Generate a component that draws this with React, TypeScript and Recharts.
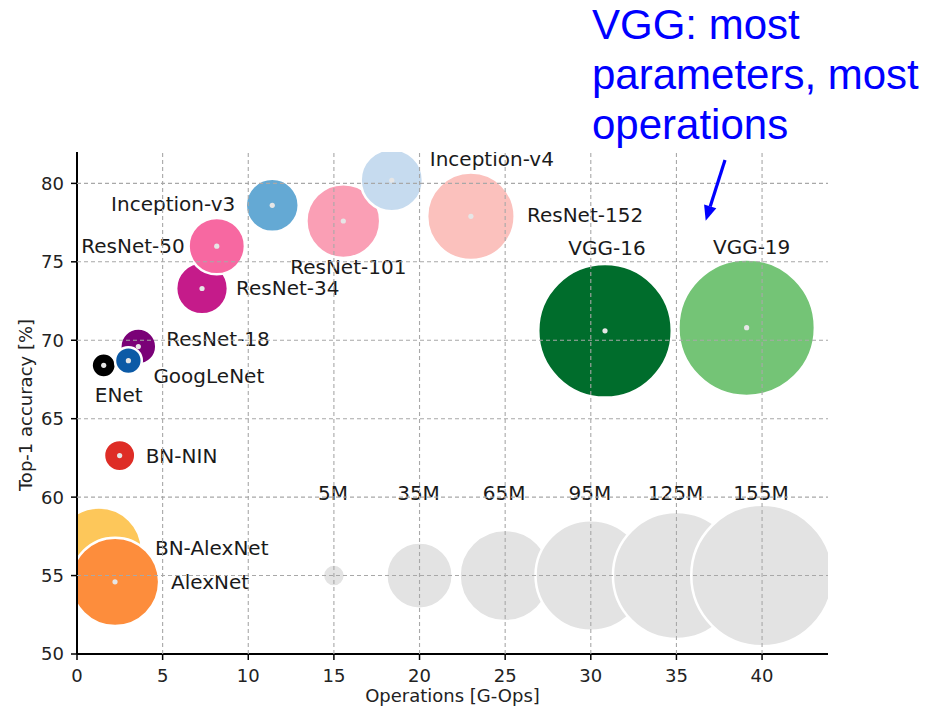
import React from 'react';
import { ScatterChart, Scatter, XAxis, YAxis, ZAxis, ReferenceLine } from 'recharts';

// models in drawing order (later ones sit on top)
const models = ['BN-AlexNet', 'AlexNet', 'BN-NIN', 'ENet', 'ResNet-18', 'GoogLeNet', 'ResNet-34', 'ResNet-50',
  'Inception-v3', 'ResNet-101', 'Inception-v4', 'ResNet-152', 'VGG-16', 'VGG-19'];
const gOps = [1.28, 2.22, 2.49, 1.56, 3.58, 3.0, 7.3, 8.16, 11.4, 15.55, 18.38, 23.0, 30.83, 39.1];
const top1 = [56.6, 54.6, 62.65, 68.4, 69.6, 68.7, 73.3, 76.0, 78.6, 77.6, 80.2, 77.9, 70.6, 70.8];
const paramsM = [58, 61, 8.8, 5.8, 11.2, 6.8, 21.8, 25.6, 22.8, 43, 31, 60, 138, 144];

// size legend drawn inside the plot
const legendParams = [5, 35, 65, 95, 125, 155];
const legendLabels = ['5M', '35M', '65M', '95M', '125M', '155M'];
const legendX = [15, 20, 25, 30, 35, 40];
const legendY = 55;

const xTicks = [0, 5, 10, 15, 20, 25, 30, 35, 40];
const yTicks = [50, 55, 60, 65, 70, 75, 80];
const X_DOMAIN: [number, number] = [0, 43.85];
const Y_DOMAIN: [number, number] = [50, 82];

const COLORS: Record<string, string> = {
  'BN-AlexNet': '#fdc75a',
  AlexNet: '#fd8d3c',
  'BN-NIN': '#de2d26',
  ENet: '#000000',
  'ResNet-18': '#7a0177',
  GoogLeNet: '#0c5aa6',
  'ResNet-34': '#c51b8a',
  'ResNet-50': '#f768a1',
  'Inception-v3': '#64a9d4',
  'ResNet-101': '#fa9fb5',
  'Inception-v4': '#c6dbef',
  'ResNet-152': '#fbc1bd',
  'VGG-16': '#006d2c',
  'VGG-19': '#74c476',
};
const GRAY = '#e3e3e3';
const GRID = '#a8a8a8';

// label placement relative to bubble centre (px)
const LABEL_POS: Record<string, { dx: number; dy: number; anchor: string }> = {
  'BN-AlexNet': { dx: 56, dy: -2, anchor: 'start' },
  AlexNet: { dx: 56, dy: 0, anchor: 'start' },
  'BN-NIN': { dx: 26, dy: 0, anchor: 'start' },
  ENet: { dx: 15, dy: 30, anchor: 'middle' },
  'ResNet-18': { dx: 28, dy: -8, anchor: 'start' },
  GoogLeNet: { dx: 25, dy: 15, anchor: 'start' },
  'ResNet-34': { dx: 34, dy: 0, anchor: 'start' },
  'ResNet-50': { dx: -32, dy: 0, anchor: 'end' },
  'Inception-v3': { dx: -37, dy: -1, anchor: 'end' },
  'ResNet-101': { dx: 5, dy: 46, anchor: 'middle' },
  'Inception-v4': { dx: 38, dy: -21, anchor: 'start' },
  'ResNet-152': { dx: 56, dy: -1, anchor: 'start' },
  'VGG-16': { dx: 2, dy: -83, anchor: 'middle' },
  'VGG-19': { dx: 5, dy: -81, anchor: 'middle' },
};

const modelData = models.map((name, i) => ({ name, ops: gOps[i], acc: top1[i], params: paramsM[i] }));
const legendData = legendParams.map((p, i) => ({ name: legendLabels[i], ops: legendX[i], acc: legendY, params: p, legend: true }));

const FONT = '"DejaVu Sans", sans-serif';
const W = 931;
const H = 709;

const Bubble = (props: any) => {
  const { cx, cy, size, payload } = props;
  if (cx == null || cy == null) return null;
  const r = Math.sqrt(size / Math.PI);
  const fill = payload.legend ? GRAY : COLORS[payload.name];
  return (
    <g>
      <circle cx={cx} cy={cy} r={r} fill={fill} stroke="#fff" strokeWidth={2.5} />
      {!payload.legend && <circle cx={cx} cy={cy} r={2.6} fill="#e6e6e6" />}
    </g>
  );
};

const BubbleLabel = (props: any) => {
  const { cx, cy, payload } = props;
  if (cx == null || cy == null) return null;
  const pos = payload.legend ? { dx: -1, dy: -83, anchor: 'middle' } : LABEL_POS[payload.name];
  return (
    <text x={cx + pos.dx} y={cy + pos.dy} textAnchor={pos.anchor} dominantBaseline="central"
      fontSize={20} fontFamily={FONT} fill="#1a1a1a">
      {payload.name}
    </text>
  );
};

const XLabel = (props: any) => {
  const vb = props.viewBox || {};
  return (
    <text x={vb.x + vb.width / 2} y={702} textAnchor="middle" fontSize={18} fontFamily={FONT} fill="#222">
      Operations [G-Ops]
    </text>
  );
};

const YLabel = (props: any) => {
  const vb = props.viewBox || {};
  const cy = vb.y + vb.height / 2 + 2;
  return (
    <text x={25} y={cy} transform={`rotate(-90, 25, ${cy})`} textAnchor="middle" dominantBaseline="central"
      fontSize={18} fontFamily={FONT} fill="#222">
      Top-1 accuracy [%]
    </text>
  );
};

const axisProps = {
  tickSize: 6,
  axisLine: { stroke: '#000', strokeWidth: 2 },
  tickLine: { stroke: '#000', strokeWidth: 1.5 },
  tick: { fill: '#222', fontSize: 18, fontFamily: FONT },
};

const gridProps: any = { stroke: GRID, strokeDasharray: '4 3', strokeWidth: 1.1, zIndex: 1500 };

export default function App() {
  return (
    <div style={{ position: 'absolute', left: 0, top: 0, width: W, height: H, background: '#fff' }}>
      <ScatterChart width={W} height={H} margin={{ top: 152, right: 103, bottom: 0, left: 0 }}>
        <XAxis type="number" dataKey="ops" domain={X_DOMAIN} ticks={xTicks} allowDataOverflow height={55}
          tickMargin={9} label={<XLabel />} {...axisProps} />
        <YAxis type="number" dataKey="acc" domain={Y_DOMAIN} ticks={yTicks} allowDataOverflow width={77}
          tickMargin={7} label={<YLabel />} {...axisProps} />
        <ZAxis type="number" dataKey="params" domain={[5, 155]} range={[380, 15748]} />
        <Scatter data={legendData} shape={<Bubble />} isAnimationActive={false} zIndex={100} />
        <Scatter data={modelData} shape={<Bubble />} isAnimationActive={false} zIndex={110} />
        <Scatter data={[...legendData, ...modelData]} shape={<BubbleLabel />} isAnimationActive={false} zIndex={120} />
        {xTicks.slice(1).map((v) => (
          <ReferenceLine key={'x' + v} x={v} {...gridProps} />
        ))}
        {yTicks.slice(1).map((v) => (
          <ReferenceLine key={'y' + v} y={v} {...gridProps} />
        ))}
      </ScatterChart>

      <div
        style={{
          position: 'absolute', left: 592, top: 0, fontFamily: '"Liberation Sans", Arial, sans-serif',
          fontSize: 42, lineHeight: '50px', color: '#0000ff', whiteSpace: 'pre',
        }}
      >
        {'VGG: most\nparameters, most\noperations'}
      </div>
      <svg width={W} height={H} style={{ position: 'absolute', left: 0, top: 0, pointerEvents: 'none' }}>
        <line x1={725} y1={160} x2={710.2} y2={206.4} stroke="#0000ff" strokeWidth={3.2} />
        <polygon points="705.7,220.7 716.3,208.3 704.1,204.5" fill="#0000ff" />
      </svg>
    </div>
  );
}
